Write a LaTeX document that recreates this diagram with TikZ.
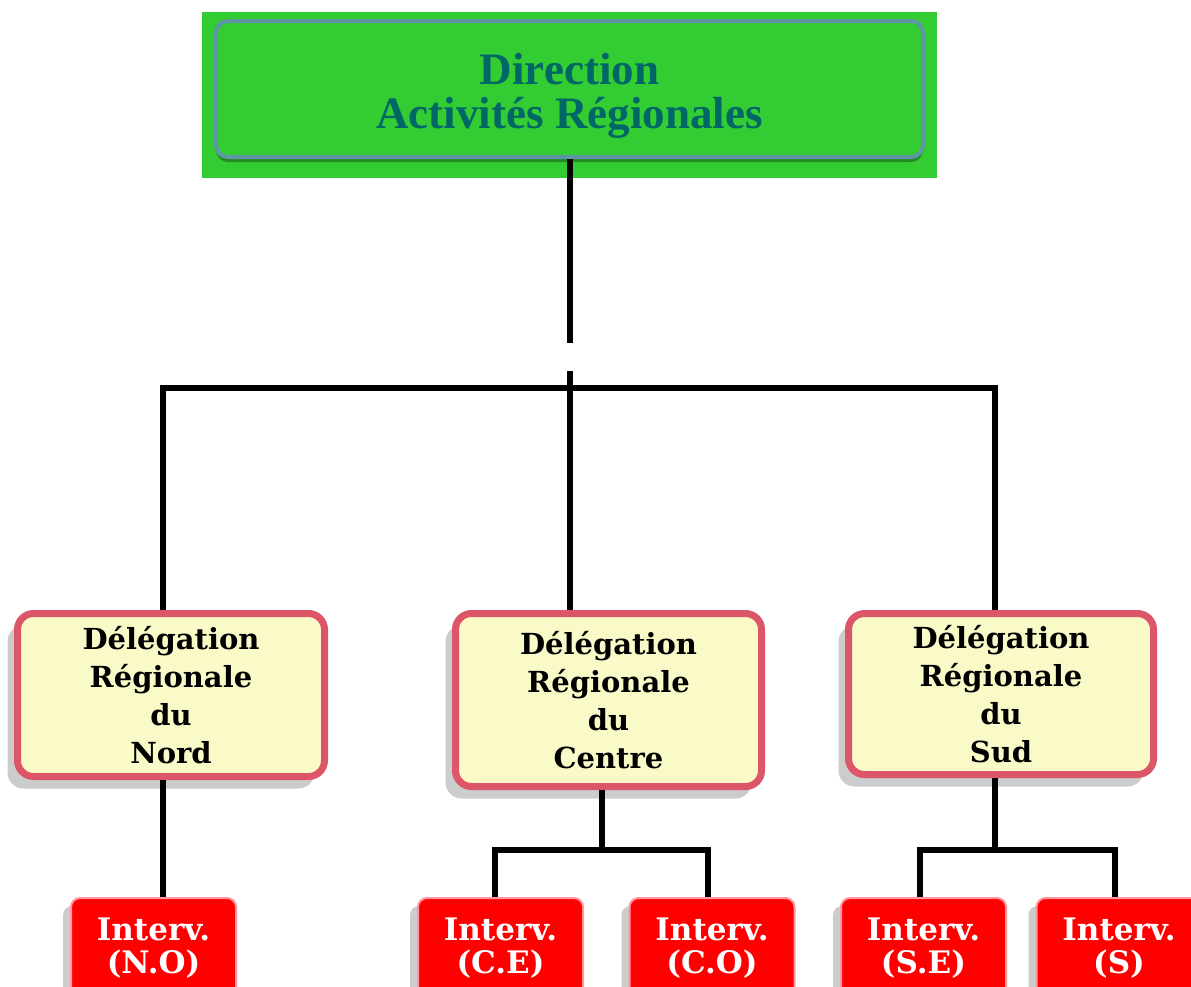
\documentclass[tikz,border=0pt]{standalone}
\usepackage{fontspec}
\setmainfont{DejaVu Serif}
\newfontfamily\titlefont{Liberation Serif}
\usetikzlibrary{shadows}

\definecolor{dirgreen}{RGB}{51,204,51}
\definecolor{dirtext}{RGB}{0,102,102}
\definecolor{dirborder}{RGB}{95,150,165}
\definecolor{delfill}{RGB}{250,250,200}
\definecolor{delborder}{RGB}{220,85,105}
\definecolor{intborder}{RGB}{255,150,160}

\tikzstyle{dirback} = [rectangle, fill=dirgreen, minimum width=735pt, minimum height=166pt, inner sep=0pt]
\tikzstyle{direction} = [rectangle, rounded corners=12pt, fill=dirgreen, draw=dirborder, line width=4pt,
    minimum width=707pt, minimum height=136pt, text=dirtext, align=center,
    font=\titlefont\bfseries\fontsize{45}{44}\selectfont,
    drop shadow={shadow xshift=0pt, shadow yshift=-5pt, fill=black!45!dirgreen, opacity=0.7}]
\tikzstyle{delegation} = [rectangle, rounded corners=16pt, fill=delfill, draw=delborder, line width=7pt,
    align=center, font=\bfseries\fontsize{29}{38}\selectfont,
    drop shadow={shadow xshift=-10pt, shadow yshift=-12pt, fill=black, opacity=0.2}]
\tikzstyle{interv} = [rectangle, rounded corners=9pt, fill=red, draw=intborder, line width=2pt,
    text=white, align=center, minimum width=165pt, minimum height=100pt,
    font=\bfseries\fontsize{31}{33}\selectfont,
    drop shadow={shadow xshift=-8pt, shadow yshift=-8pt, fill=black, opacity=0.2}]
\tikzstyle{link} = [line width=6pt]

\begin{document}
\begin{tikzpicture}[x=1pt, y=-1pt]
\useasboundingbox (0,0) rectangle (1191,986);

\node[dirback] (dirbg) at (569.5,95) {};
\node[direction] (dir) at (569.5,89) {\rule{0pt}{45pt}Direction\\Activités Régionales};

\node[delegation, minimum width=307pt, minimum height=163pt] (nord) at (171,695)
    {Délégation\\Régionale\\du\\Nord};
\node[delegation, minimum width=306pt, minimum height=173pt] (centre) at (608.5,700)
    {Délégation\\Régionale\\du\\Centre};
\node[delegation, minimum width=305pt, minimum height=161pt] (sud) at (1001,694)
    {Délégation\\Régionale\\du\\Sud};

\node[interv] (no) at (153.5,948) {Interv.\\(N.O)};
\node[interv] (ce) at (500.5,948) {Interv.\\(C.E)};
\node[interv] (co) at (712,948) {Interv.\\(C.O)};
\node[interv] (se) at (923.5,948) {Interv.\\(S.E)};
\node[interv] (s) at (1119,948) {Interv.\\(S)};

\coordinate (top) at (570,388);
\coordinate (jn) at (163,388);
\coordinate (js) at (995,388);
\draw[link] (dir.south -| top) -- (top);
\draw[link] (jn |- nord.north) -- (jn) -- (js) -- (js |- sud.north);
\draw[link] (top) -- (top |- centre.north);
\fill[white] (562,343) rectangle (579,371);

\coordinate (bn) at (163,850);
\draw[link] (bn |- nord.south) -- (bn |- no.north);

\coordinate (bc) at (602,850);
\coordinate (bce) at (495,850);
\coordinate (bco) at (708,850);
\draw[link] (bc |- centre.south) -- (bc);
\draw[link] (bce |- ce.north) -- (bce) -- (bco) -- (bco |- co.north);

\coordinate (bs) at (995,850);
\coordinate (bse) at (920,850);
\coordinate (bsx) at (1115,850);
\draw[link] (bs |- sud.south) -- (bs);
\draw[link] (bse |- se.north) -- (bse) -- (bsx) -- (bsx |- s.north);
\end{tikzpicture}
\end{document}
